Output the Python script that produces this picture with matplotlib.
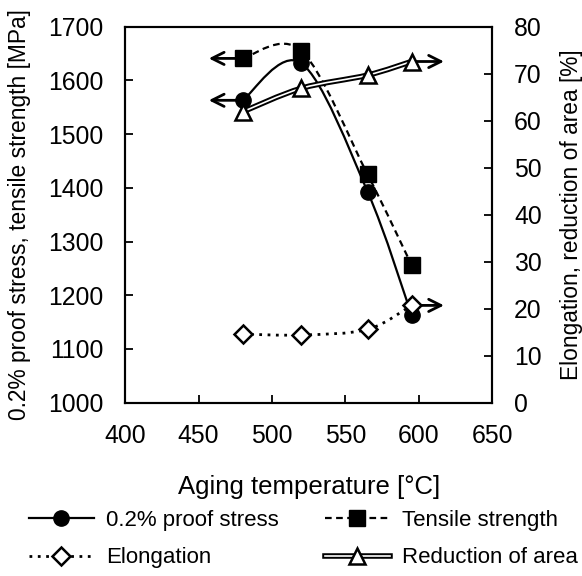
import numpy as np
import matplotlib
matplotlib.use('Agg')
import matplotlib.pyplot as plt
from matplotlib.path import Path
from matplotlib.patches import PathPatch
from matplotlib.lines import Line2D
import matplotlib.patheffects as pe

plt.rcParams['font.family'] = ['Liberation Sans', 'DejaVu Sans']

# datos
temperatura = [480, 520, 565, 595]
proof_stress = [1563, 1632, 1393, 1163]
tensile = [1641, 1655, 1425, 1256]
elongation = [14.6, 14.4, 15.6, 20.7]
reduction = [61.9, 66.9, 69.7, 72.6]

x_ticks = [400, 450, 500, 550, 600, 650]
y_left_ticks = [1000, 1100, 1200, 1300, 1400, 1500, 1600, 1700]
y_right_ticks = [0, 10, 20, 30, 40, 50, 60, 70, 80]


def curva_suave(x, y):
    ## bezier tipo excel (catmull-rom), devuelve un Path con CURVE4
    p = np.column_stack([x, y]).astype(float)
    n = len(p)
    verts = [p[0]]
    codes = [Path.MOVETO]
    for i in range(n - 1):
        p0 = p[max(i - 1, 0)]
        p1 = p[i]
        p2 = p[i + 1]
        p3 = p[min(i + 2, n - 1)]
        c1 = p1 + (p2 - p0) / 6
        c2 = p2 - (p3 - p1) / 6
        verts += [c1, c2, p2]
        codes += [Path.CURVE4] * 3
    return Path(verts, codes)


def flecha(eje, x0, y0, x1):
    eje.annotate('', xy=(x1, y0), xytext=(x0, y0),
                 arrowprops=dict(arrowstyle='->', lw=2, color='black',
                                 mutation_scale=22, shrinkA=0, shrinkB=0),
                 zorder=2)


fig = plt.figure(figsize=(5.82, 5.76), dpi=100)
fig.subplots_adjust(left=0.2148, right=0.8462, top=0.9536, bottom=0.3009)
ax = fig.add_subplot(111)
ax2 = ax.twinx()

# eje izquierdo: proof stress y tensile strength
ax.add_patch(PathPatch(curva_suave(temperatura, proof_stress), fill=False,
                       lw=1.6, edgecolor='black', zorder=2))
ax.add_patch(PathPatch(curva_suave(temperatura, tensile), fill=False,
                       lw=1.6, edgecolor='black', linestyle=(0, (3, 2)), zorder=2))
flecha(ax, temperatura[0], proof_stress[0], 457)
flecha(ax, temperatura[0], tensile[0], 457)
ax.plot(temperatura, proof_stress, linestyle='none', marker='o', ms=11,
        color='black', zorder=3)
ax.plot(temperatura, tensile, linestyle='none', marker='s', ms=11,
        color='black', zorder=3)

# eje derecho: elongation y reduction of area
ax2.add_patch(PathPatch(curva_suave(temperatura, elongation), fill=False,
                        lw=2, edgecolor='black', linestyle=(0, (1, 2)), zorder=2))
ax2.add_patch(PathPatch(curva_suave(temperatura, reduction), fill=False,
                        lw=1.2, edgecolor='white', zorder=2,
                        path_effects=[pe.Stroke(linewidth=4, foreground='black'), pe.Normal()]))
flecha(ax2, temperatura[-1], elongation[-1], 617)
flecha(ax2, temperatura[-1], reduction[-1], 617)
ax2.plot(temperatura, elongation, linestyle='none', marker='D', ms=9,
         mfc='white', mec='black', mew=1.8, zorder=3)
ax2.plot(temperatura, reduction, linestyle='none', marker='^', ms=12,
         mfc='white', mec='black', mew=1.8, zorder=3)

ax.set_xlim(400, 650)
ax.set_ylim(1000, 1700)
ax2.set_ylim(0, 80)
ax.set_xticks(x_ticks)
ax.set_yticks(y_left_ticks)
ax2.set_yticks(y_right_ticks)

for eje in (ax, ax2):
    eje.tick_params(direction='in', length=6, width=1.3, labelsize=17.8, pad=15.5)
    for s in eje.spines.values():
        s.set_linewidth(1.5)

ax.set_xlabel('Aging temperature [°C]', fontsize=18.5, labelpad=19)
ax.set_ylabel('0.2% proof stress, tensile strength [MPa]', fontsize=16.4, labelpad=12)
ax2.set_ylabel('Elongation, reduction of area [%]', fontsize=16.4, labelpad=13)

# leyenda con handles de muestra
h1 = Line2D([], [], color='black', lw=1.6, marker='o', ms=11)
h2 = Line2D([], [], color='black', lw=1.6, ls=(0, (3, 2)), marker='s', ms=11)
h3 = Line2D([], [], color='black', lw=2, ls=(0, (1, 2)), marker='D', ms=9,
            mfc='white', mew=1.8)
h4a = Line2D([], [], color='white', lw=1.2,
             path_effects=[pe.Stroke(linewidth=4, foreground='black'), pe.Normal()])
h4b = Line2D([], [], ls='none', marker='^', ms=12, mfc='white', mec='black', mew=1.8)
fig.legend([h1, h3, h2, (h4a, h4b)],
           ['0.2% proof stress', 'Elongation', 'Tensile strength', 'Reduction of area'],
           loc='center', bbox_to_anchor=(303.5 / 582, 1 - 539 / 576), ncol=2,
           frameon=False, fontsize=16, handlelength=2.9, handletextpad=0.55,
           columnspacing=2.1, labelspacing=0.76, numpoints=1, borderpad=0.2)

fig.savefig('out.png', dpi=100)
